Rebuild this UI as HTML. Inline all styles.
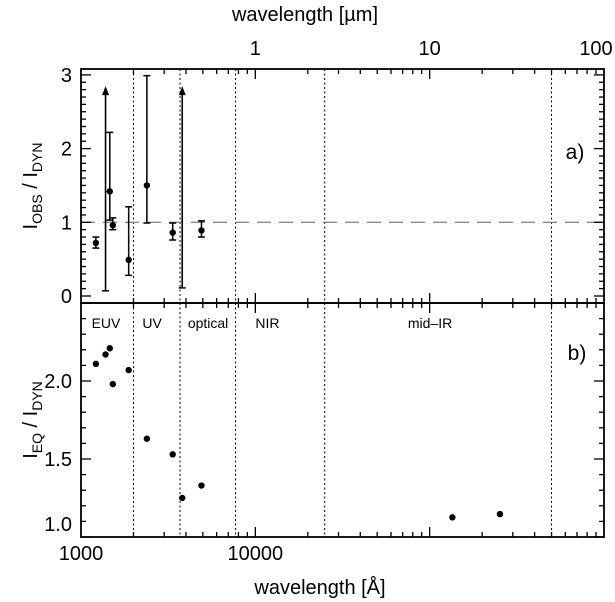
<!DOCTYPE html>
<html><head><meta charset="utf-8">
<style>
html,body{margin:0;padding:0;background:#fff;}
svg{display:block;font-family:"Liberation Sans","DejaVu Sans",sans-serif;}
</style></head>
<body>
<svg id="chart" width="615" height="602" viewBox="0 0 615 602" xmlns="http://www.w3.org/2000/svg"></svg>
<script>
// ---- data ----
const obsWave   = [1217, 1463, 1522, 1877, 2387, 3358, 4909];
const obsRatio  = [0.72, 1.42, 0.96, 0.49, 1.50, 0.86, 0.89];
const obsErrLo  = [0.65, 1.03, 0.90, 0.28, 0.99, 0.76, 0.80];
const obsErrHi  = [0.80, 2.22, 1.06, 1.21, 2.99, 0.99, 1.02];
const limWave   = [1383, 3808];
const limLo     = [0.07, 0.11];
const limHi     = [2.82, 2.82];
const eqWave    = [1217, 1383, 1463, 1522, 1877, 2387, 3358, 3808, 4909, 135000, 253000];
const eqRatio   = [2.11, 2.17, 2.21, 1.98, 2.07, 1.63, 1.53, 1.25, 1.33, 1.126, 1.147];
const bandEdges = [2000, 3700, 7700, 25000, 500000];
const bandNames = ["EUV", "UV", "optical", "NIR", "mid\u2013IR"];
const bandLabelWave = [1150, 2250, 4100, 10000, 75000];
const topTickLabels = ["1", "10", "100"];
const topTickWave = [10000, 100000, 1000000];
const botTickLabels = ["1000", "10000"];
const botTickWave = [1000, 10000];
const aTicks = [0, 1, 2, 3];
const bTicks = [1.0, 1.5, 2.0];
const bTickLabels = ["1.0", "1.5", "2.0"];

// ---- layout ----
const L = 81, R = 604, T = 69, M = 303, B = 537;
const NS = "http://www.w3.org/2000/svg";
const svg = document.getElementById('chart');
function X(w){ return L + (R - L) * Math.log10(w / 1000) / 3; }
function YA(v){ return 296 - (v - 0) * 73.7; }
function YB(v){ return 537 - (v - 1.0) * 156; }
function el(tag, attrs, parent){
  const e = document.createElementNS(NS, tag);
  for (const k in attrs) e.setAttribute(k, attrs[k]);
  (parent || svg).appendChild(e);
  return e;
}
function line(x1,y1,x2,y2,extra){ return el('line', Object.assign({x1,y1,x2,y2,stroke:'#000','stroke-width':1.3}, extra||{})); }
function txt(x,y,s,size,anchor){ const t = el('text',{x,y,'font-size':size,'text-anchor':anchor||'middle',fill:'#000'}); t.textContent = s; return t; }

// band dotted lines
bandEdges.forEach((w,i)=>{
  const d = line(X(w),T,X(w),B,{'stroke-width':1,'stroke-dasharray':'2,2.5'});
  
  
});

// dashed unity line
const du = line(L,YA(1),R,YA(1),{stroke:'#888','stroke-width':1.3,'stroke-dasharray':'14,8'});



// x ticks
for (let d=0; d<3; d++){
  for (let m=1; m<10; m++){
    const w = 1000*Math.pow(10,d)*m;
    const x = X(w);
    const len = m===1 ? 10 : 5;
    if (m===1 && d===0) continue;
    [[T,1],[M,1],[M,-1],[B,-1]].forEach(([y,s])=>{
      const t = line(x,y,x,y+s*len);
      
      
    });
  }
}
// y ticks panel a
for (let i=-1;i<=31;i++){
  const v=i/10, y=YA(v);
  if (y<T || y>M) continue;
  const len = (i%10===0)?10:5;
  line(L,y,L+len,y);
  line(R,y,R-len,y);
}
for (let i=10;i<=25;i++){
  const v=i/10, y=YB(v);
  const len = (i%5===0)?10:5;
  line(L,y,L+len,y);
  line(R,y,R-len,y);
}

// frames
const fa = el('rect',{x:L,y:T,width:R-L,height:M-T,fill:'none',stroke:'#000','stroke-width':1.8});
 
const fb = el('rect',{x:L,y:M,width:R-L,height:B-M,fill:'none',stroke:'#000','stroke-width':1.8});
 

// tick labels
topTickWave.forEach((w,i)=>{ const t=txt(X(w)+(i===2?-8:0),55,topTickLabels[i],20);   });
botTickWave.forEach((w,i)=>{ const t=txt(X(w),560,botTickLabels[i],20);   });
aTicks.forEach(v=>{ const t=txt(72,YA(v)+7,String(v),20,'end');   });
bTicks.forEach((v,i)=>{ const y = i===0 ? 531 : YB(v)+7; const t=txt(72,y,bTickLabels[i],20,'end');   });

// band labels
bandNames.forEach((s,i)=>{ const t=txt(X(bandLabelWave[i]),328,s,14,'start');   });

// panel a: error bars
obsWave.forEach((w,i)=>{
  const x=X(w);
  const g = el('g',{});
  
  
  el('line',{x1:x,y1:YA(obsErrLo[i]),x2:x,y2:YA(obsErrHi[i]),stroke:'#000','stroke-width':1.5},g);
  el('line',{x1:x-3.5,y1:YA(obsErrLo[i]),x2:x+3.5,y2:YA(obsErrLo[i]),stroke:'#000','stroke-width':1.5},g);
  el('line',{x1:x-3.5,y1:YA(obsErrHi[i]),x2:x+3.5,y2:YA(obsErrHi[i]),stroke:'#000','stroke-width':1.5},g);
  el('circle',{cx:x,cy:YA(obsRatio[i]),r:3.2,fill:'#000'},g);
});
limWave.forEach((w,i)=>{
  const x=X(w);
  const g = el('g',{});
  
  
  const yt=YA(limHi[i]), yb=YA(limLo[i]);
  el('line',{x1:x,y1:yb,x2:x,y2:yt+6,stroke:'#000','stroke-width':1.6},g);
  el('line',{x1:x-3.5,y1:yb,x2:x+3.5,y2:yb,stroke:'#000','stroke-width':1.5},g);
  el('polygon',{points:`${x},${yt-2} ${x-3.5},${yt+7} ${x+3.5},${yt+7}`,fill:'#000'},g);
});

// panel b points
eqWave.forEach((w,i)=>{
  const c = el('circle',{cx:X(w),cy:YB(eqRatio[i]),r:3.2,fill:'#000'});
  
  
});

// panel letters
const pa = txt(575,159,'a)',21);  
const pb = txt(577,360,'b)',21);  

// axis titles
const tt = txt(305,21,'wavelength [\u00b5m]',20);  
const bt = txt(320,594,'wavelength [\u00c5]',20);  

function yTitle(cy, sub1, data_name){
  const t = el('text',{transform:`translate(37,${cy}) rotate(-90)`,'font-size':20,'text-anchor':'middle',fill:'#000'});
  
  
  const a = el('tspan',{},t); a.textContent='I';
  const b = el('tspan',{'font-size':14,dy:5},t); b.textContent=sub1;
  const c = el('tspan',{dy:-5},t); c.textContent=' / I';
  const d = el('tspan',{'font-size':14,dy:5},t); d.textContent='DYN';
}
yTitle(186,'OBS','y-axis-title-a');
yTitle(420,'EQ','y-axis-title-b');
</script>
</body></html>
